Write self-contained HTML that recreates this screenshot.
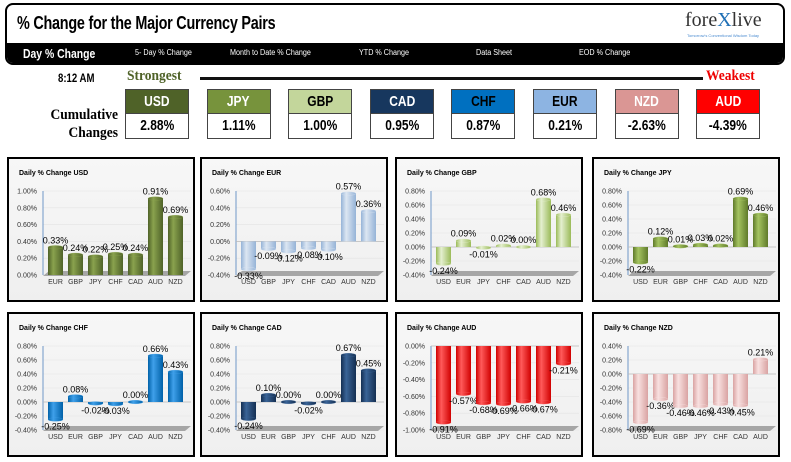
<!DOCTYPE html>
<html><head><meta charset="utf-8">
<style>
body{margin:0;width:791px;height:462px;background:#fff;font-family:"Liberation Sans",sans-serif;position:relative;overflow:hidden}
.abs{position:absolute}
.hdr{left:5px;top:3px;width:776px;height:58px;border:2px solid #000;border-radius:8px;overflow:hidden}
.title{left:10px;top:8px;font-size:18px;font-weight:bold;transform:scaleX(0.8);transform-origin:left;letter-spacing:-0.3px}
.nav{left:0;top:38px;width:776px;height:20px;background:#000;color:#fff}
.nav span{position:absolute;top:5px;font-size:8px;transform:scaleX(0.9);transform-origin:left}
.box{width:62px;border:1px solid #444;text-align:center;font-weight:bold}
.bh{height:23px;line-height:23px;font-size:15px}
.bv{height:24px;line-height:24px;font-size:15px;background:#fff;border-top:1px solid #444}
.bh span,.bv span{display:inline-block;transform:scaleX(0.8)}
.panel{width:184px;height:141px;border:2px solid #000;background:linear-gradient(#f7f7f7,#efefef)}
</style></head><body>
<div class="abs hdr">
 <div class="abs title">% Change for the Major Currency Pairs</div>
 <div class="abs" style="left:678px;top:4px;font-family:'Liberation Serif',serif;font-size:20px;color:#333">fore<span style="color:#1f6fb5">X</span>live</div>
 <div class="abs" style="left:680px;top:28px;font-size:4px;color:#4a8bd0">Tomorrow's Conventional Wisdom Today</div>
 <div class="abs nav">
  <span style="left:16px;top:3px;font-size:13px;font-weight:bold;transform:scaleX(0.8)">Day % Change</span>
  <span style="left:128px">5- Day % Change</span>
  <span style="left:223px">Month to Date % Change</span>
  <span style="left:352px">YTD % Change</span>
  <span style="left:469px">Data Sheet</span>
  <span style="left:572px">EOD % Change</span>
 </div>
</div>
<div class="abs" style="left:58px;top:71px;font-size:12px;font-weight:bold;transform:scaleX(0.8);transform-origin:left">8:12 AM</div>
<div class="abs" style="left:127px;top:68px;font-size:15px;font-weight:bold;color:#4f6228;font-family:'Liberation Serif',serif;transform:scaleX(0.9);transform-origin:left">Strongest</div>
<div class="abs" style="left:200px;top:77px;width:503px;height:3px;background:#111"></div>
<div class="abs" style="left:706px;top:68px;font-size:15px;font-weight:bold;color:#e00;font-family:'Liberation Serif',serif;transform:scaleX(0.9);transform-origin:left">Weakest</div>
<div class="abs" style="left:20px;top:106px;width:98px;text-align:right;font-size:15px;font-weight:bold;line-height:18px;font-family:'Liberation Serif',serif;transform:scaleX(0.9);transform-origin:right">Cumulative<br>Changes</div>
<div id="boxes"></div>
<div id="panels"></div>
<script>
const rankCurrencies=["USD","JPY","GBP","CAD","CHF","EUR","NZD","AUD"];
const rankValues=["2.88%","1.11%","1.00%","0.95%","0.87%","0.21%","-2.63%","-4.39%"];
const rankColors=["#4f6228","#77933c","#c3d69b","#17375e","#0070c0","#8db4e2","#da9694","#ff0000"];
const rankText=["#fff","#fff","#000","#fff","#000","#000","#fff","#fff"];
const bx=document.getElementById('boxes');
rankCurrencies.forEach((c,i)=>{
 const d=document.createElement('div');
 d.className='abs box';d.style.left=(125+i*81.6)+'px';d.style.top='89px';
 
 
 d.innerHTML='<div class="bh" style="background:'+rankColors[i]+';color:'+rankText[i]+'"><span>'+c+'</span></div><div class="bv"><span>'+rankValues[i]+'</span></div>';
 bx.appendChild(d);
});

const usdCats=["EUR","GBP","JPY","CHF","CAD","AUD","NZD"];
const usdValues=[0.33,0.24,0.22,0.25,0.24,0.91,0.69];
const usdTicks=[0,0.2,0.4,0.6,0.8,1.0];
const eurCats=["USD","GBP","JPY","CHF","CAD","AUD","NZD"];
const eurValues=[-0.33,-0.09,-0.12,-0.08,-0.10,0.57,0.36];
const eurTicks=[-0.4,-0.2,0,0.2,0.4,0.6];
const gbpCats=["USD","EUR","JPY","CHF","CAD","AUD","NZD"];
const gbpValues=[-0.24,0.09,-0.01,0.02,0.00,0.68,0.46];
const gbpTicks=[-0.4,-0.2,0,0.2,0.4,0.6,0.8];
const jpyCats=["USD","EUR","GBP","CHF","CAD","AUD","NZD"];
const jpyValues=[-0.22,0.12,0.01,0.03,0.02,0.69,0.46];
const jpyTicks=[-0.4,-0.2,0,0.2,0.4,0.6,0.8];
const chfCats=["USD","EUR","GBP","JPY","CAD","AUD","NZD"];
const chfValues=[-0.25,0.08,-0.02,-0.03,0.00,0.66,0.43];
const chfTicks=[-0.4,-0.2,0,0.2,0.4,0.6,0.8];
const cadCats=["USD","EUR","GBP","JPY","CHF","AUD","NZD"];
const cadValues=[-0.24,0.10,0.00,-0.02,0.00,0.67,0.45];
const cadTicks=[-0.4,-0.2,0,0.2,0.4,0.6,0.8];
const audCats=["USD","EUR","GBP","JPY","CHF","CAD","NZD"];
const audValues=[-0.91,-0.57,-0.68,-0.69,-0.66,-0.67,-0.21];
const audTicks=[-1.0,-0.8,-0.6,-0.4,-0.2,0];
const nzdCats=["USD","EUR","GBP","JPY","CHF","CAD","AUD"];
const nzdValues=[-0.69,-0.36,-0.46,-0.46,-0.43,-0.45,0.21];
const nzdTicks=[-0.8,-0.6,-0.4,-0.2,0,0.2,0.4];

const charts=[
 {n:"USD",cats:usdCats,vals:usdValues,ticks:usdTicks,c:"#4f6228",l:"#8aa24e",x:7,y:157},
 {n:"EUR",cats:eurCats,vals:eurValues,ticks:eurTicks,c:"#95b3d7",l:"#dce6f2",x:200,y:157},
 {n:"GBP",cats:gbpCats,vals:gbpValues,ticks:gbpTicks,c:"#9bbb59",l:"#e4efcf",x:395,y:157},
 {n:"JPY",cats:jpyCats,vals:jpyValues,ticks:jpyTicks,c:"#5f7a2a",l:"#a5c461",x:592,y:157},
 {n:"CHF",cats:chfCats,vals:chfValues,ticks:chfTicks,c:"#0061a8",l:"#3fa0ea",x:7,y:312},
 {n:"CAD",cats:cadCats,vals:cadValues,ticks:cadTicks,c:"#142f52",l:"#3a6497",x:200,y:312},
 {n:"AUD",cats:audCats,vals:audValues,ticks:audTicks,c:"#d00000",l:"#ff5a5a",x:395,y:312},
 {n:"NZD",cats:nzdCats,vals:nzdValues,ticks:nzdTicks,c:"#d9a3a2",l:"#f8e0e0",x:592,y:312}
];
const NS="http://www.w3.org/2000/svg";
function mk(tag,attrs,parent){const e=document.createElementNS(NS,tag);for(const k in attrs)e.setAttribute(k,attrs[k]);parent.appendChild(e);return e;}
const pn=document.getElementById('panels');
charts.forEach((ch,ci)=>{
 const d=document.createElement('div');
 d.className='abs panel';d.style.left=ch.x+'px';d.style.top=ch.y+'px';
 
 
 pn.appendChild(d);
 const svg=mk('svg',{width:184,height:141},d);
 const defs=mk('defs',{},svg);
 const g=mk('linearGradient',{id:'g'+ci,x1:0,x2:1,y1:0,y2:0},defs);
 mk('stop',{offset:'0','stop-color':ch.c},g);
 mk('stop',{offset:'0.35','stop-color':ch.l},g);
 mk('stop',{offset:'1','stop-color':ch.c},g);
 const t=mk('text',{x:10,y:16,'font-size':7,'font-weight':'bold','font-family':'Liberation Sans,sans-serif'},svg);
 t.textContent='Daily % Change '+ch.n;
 
 
 const mn=Math.min(...ch.ticks),mx=Math.max(...ch.ticks);
 const top=32,bot=116,left=34,right=182;
 const Y=v=>bot-(v-mn)/(mx-mn)*(bot-top);
 const X=i=>left+5+i*20;
 ch.ticks.forEach(tv=>{
  mk('line',{x1:left,x2:right,y1:Y(tv),y2:Y(tv),stroke:'#e3e3e3','stroke-width':0.6},svg);
  const tl=mk('text',{x:left-6,y:Y(tv)+2.5,'font-size':7,'text-anchor':'end',fill:'#333','font-family':'Liberation Sans,sans-serif'},svg);
  tl.textContent=tv.toFixed(2)+'%';
  
  
 });
 mk('line',{x1:left,x2:left,y1:top,y2:bot,stroke:'#4f81bd','stroke-width':0.8},svg);
 mk('polygon',{points:(left)+','+(bot+1)+' '+(right-6)+','+(bot+1)+' '+right+','+(bot-4)+' '+(left+6)+','+(bot-4),fill:'#a6a6a6'},svg);
 if(mn<0) mk('line',{x1:left,x2:right,y1:Y(0),y2:Y(0),stroke:'#bbb','stroke-width':0.8},svg);
 ch.vals.forEach((v,i)=>{
  const x=X(i),w=15,y0=Y(0),y1=Y(v);
  const yt=Math.min(y0,y1),h=Math.abs(y1-y0);
  const b=mk('rect',{x:x,y:yt,width:w,height:h,fill:'url(#g'+ci+')'},svg);
  
  
  mk('ellipse',{cx:x+w/2,cy:y1,rx:w/2,ry:1.8,fill:'url(#g'+ci+')',stroke:ch.l,'stroke-width':0.3},svg);
  const lb=mk('text',{x:x+w/2,y:v>=0?y1-4:y1+10,'font-size':9,'text-anchor':'middle',fill:'#000','font-family':'Liberation Sans,sans-serif'},svg);
  lb.textContent=v.toFixed(2)+'%';
  
  
  const cl=mk('text',{x:x+w/2,y:bot+9,'font-size':7,'text-anchor':'middle',fill:'#333','font-family':'Liberation Sans,sans-serif'},svg);
  cl.textContent=ch.cats[i];
  
  
 });
});
</script>
</body></html>
